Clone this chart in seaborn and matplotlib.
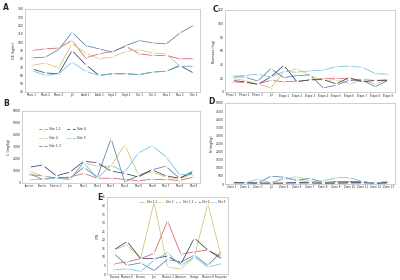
import seaborn as sns
import matplotlib.pyplot as plt
import pandas as pd

# ======================================
# DATA
# ======================================

series = ["Site 1-1", "Site 2", "Site 1-3", "Site 4", "Site 5"]
colors = ["#d0606e", "#cfc46c", "#5a7ea8", "#3c3f66", "#6cc4d8"]

labels_a = ["Mars 1", "Mars 2", "Mars 3", "Juil", "Août 1", "Août 2", "Sept 1",
            "Sept 2", "Oct 1", "Oct 2", "Nov 1", "Nov 2", "Déc 1"]
labels_b = ["Janvier", "Février", "Février 2", "Juin", "Mai 1", "Mai 2", "Mai 3",
            "Mai 4", "Mai 5", "Mai 6", "Mai 7", "Mai 8", "Mai 9"]
labels_c = ["Phase 1", "Phase 2", "Phase 3", "Juil", "Étape 1", "Étape 2", "Étape 3",
            "Étape 4", "Étape 5", "Étape 6", "Étape 7", "Étape 8", "Étape 9"]
labels_d = ["Zone 1", "Zone 2", "Zone 3", "Juil", "Zone 5", "Zone 6", "Zone 7",
            "Zone 8", "Zone 9", "Zone 10", "Zone 11", "Zone 12", "Zone 13"]
labels_e = ["Travaux", "Maison 6", "Bureau", "Juin", "Maison 1", "Cabanon",
            "Garage", "Maison 8", "Fiançurez"]

a_red = [90, 92, 93, 102, 81, 86, 89, 95, 86, 84, 84, 80, 80]
a_yellow = [72, 75, 69, 98, 87, 80, 82, 89, 91, 87, 86, 71, 71]
a_blue = [81, 82, 91, 112, 96, 92, 88, 96, 102, 99, 98, 111, 120]
a_navy = [68, 63, 62, 90, 73, 60, 62, 62, 61, 64, 65, 72, 63]
a_cyan = [66, 60, 62, 76, 65, 60, 62, 62, 61, 64, 65, 71, 71]

b_red = [700, 600, 400, 500, 800, 400, 400, 300, 200, 300, 300, 200, 500]
b_yellow = [1000, 600, 400, 300, 1700, 1400, 1400, 3200, 700, 900, 500, 300, 800]
b_blue = [800, 300, 500, 400, 1300, 500, 3700, 100, 600, 1100, 1400, 400, 1000]
b_navy = [1300, 1500, 600, 900, 1800, 1700, 1000, 800, 500, 1100, 600, 400, 900]
b_cyan = [300, 300, 400, 300, 1700, 400, 1500, 900, 2500, 3100, 2200, 700, 700]

c_red = [15, 14, 12, 17, 15, 16, 17, 20, 20, 19, 18, 17, 18]
c_yellow = [20, 17, 12, 6, 29, 34, 24, 17, 18, 12, 17, 12, 18]
c_blue = [22, 22, 16, 34, 21, 24, 25, 6, 10, 17, 17, 8, 17]
c_navy = [17, 15, 11, 22, 39, 15, 18, 18, 12, 21, 15, 17, 17]
c_cyan = [23, 24, 26, 22, 30, 29, 31, 32, 37, 38, 36, 27, 26]

d_red = [60, 50, 50, 50, 50, 50, 50, 50, 50, 50, 50, 50, 50]
d_yellow = [80, 60, 50, 50, 300, 450, 200, 50, 100, 150, 100, 50, 100]
d_blue = [100, 80, 50, 480, 420, 220, 350, 100, 150, 150, 150, 50, 100]
d_navy = [100, 80, 60, 50, 60, 100, 80, 50, 60, 80, 100, 50, 80]
d_cyan = [50, 50, 300, 80, 350, 250, 100, 200, 380, 400, 150, 50, 200]

e_red = [6, 7, 9, 12, 31, 11.5, 13, 14, 10]
e_yellow = [14, 17, 9, 42, 4, 3, 10, 41, 10]
e_blue = [12, 5, 6.5, 2, 8.5, 7, 11, 5, 13]
e_navy = [14, 19, 9, 9, 10.5, 6, 21, 14, 9]
e_cyan = [2.5, 3, 1.5, 8, 12.5, 5, 10, 4, 6]

# ======================================
# FIGURE
# ======================================

sns.set_style("white")
fig = plt.figure(figsize=(4, 2.8), dpi=100)


def make_axes(x0, y0, x1, y1):
    return fig.add_axes([x0 / 400, 1 - y1 / 280, (x1 - x0) / 400, (y1 - y0) / 280])


def draw_panel(ax, values, labels, ylim, step, ylabel, legend=False):
    frames = []
    for name, vals in zip(series, values):
        frames.append(pd.DataFrame({"x": range(len(vals)), "value": vals, "Series": name}))
    data = pd.concat(frames)
    sns.lineplot(data=data, x="x", y="value", hue="Series", palette=colors,
                 style="Series", markers=["D", "s", "^", "X", "o"], dashes=False,
                 markersize=1.3, linewidth=0.55, ax=ax, legend=legend, sort=False)
    ax.set_xlim(-0.5, len(labels) - 0.5)
    ax.set_ylim(*ylim)
    ax.set_yticks(range(ylim[0], ylim[1] + 1, step))
    ax.set_xticks(range(len(labels)))
    ax.set_xticklabels(labels, fontsize=1.9)
    ax.tick_params(axis="y", labelsize=2.2, length=0, pad=1)
    ax.tick_params(axis="x", length=0, pad=1)
    ax.set_xlabel("")
    ax.set_ylabel(ylabel, fontsize=2.4, labelpad=1.5)
    for s in ax.spines.values():
        s.set_color("#c8c8c8")
        s.set_linewidth(0.6)


ax_a = make_axes(25, 9, 200, 92)
draw_panel(ax_a, [a_red, a_yellow, a_blue, a_navy, a_cyan], labels_a,
           (40, 140), 10, "OE (kg/m)")

ax_b = make_axes(22, 111, 200, 183)
draw_panel(ax_b, [b_red, b_yellow, b_blue, b_navy, b_cyan], labels_b,
           (0, 6000), 1000, "C (mg/kg)", legend="full")
ax_b.legend(fontsize=2.2, ncol=2, frameon=False, loc="upper left",
            bbox_to_anchor=(0.08, 0.82), handlelength=2.5, columnspacing=2,
            labelspacing=1.6)

ax_c = make_axes(225, 10, 395, 92)
draw_panel(ax_c, [c_red, c_yellow, c_blue, c_navy, c_cyan], labels_c,
           (0, 120), 20, "Biomass (mg)")

ax_d = make_axes(225, 103, 395, 184)
draw_panel(ax_d, [d_red, d_yellow, d_blue, d_navy, d_cyan], labels_d,
           (0, 5000), 500, "N (mg/kg)")

ax_e = make_axes(107, 197, 228, 274)
draw_panel(ax_e, [e_red, e_yellow, e_blue, e_navy, e_cyan], labels_e,
           (0, 45), 5, "C/N", legend="full")
ax_e.legend(fontsize=1.9, ncol=5, frameon=False, loc="upper right",
            bbox_to_anchor=(1.0, 0.99), handlelength=1.8, columnspacing=0.8)

# panel letters
for letter, px, py in [("A", 3, 8), ("B", 3, 104), ("C", 213, 9), ("D", 208, 101), ("E", 97, 197)]:
    fig.text(px / 400, 1 - py / 280, letter, fontsize=5.5, fontweight="bold",
             ha="left", va="center")

fig.savefig("out.png", dpi=100)
